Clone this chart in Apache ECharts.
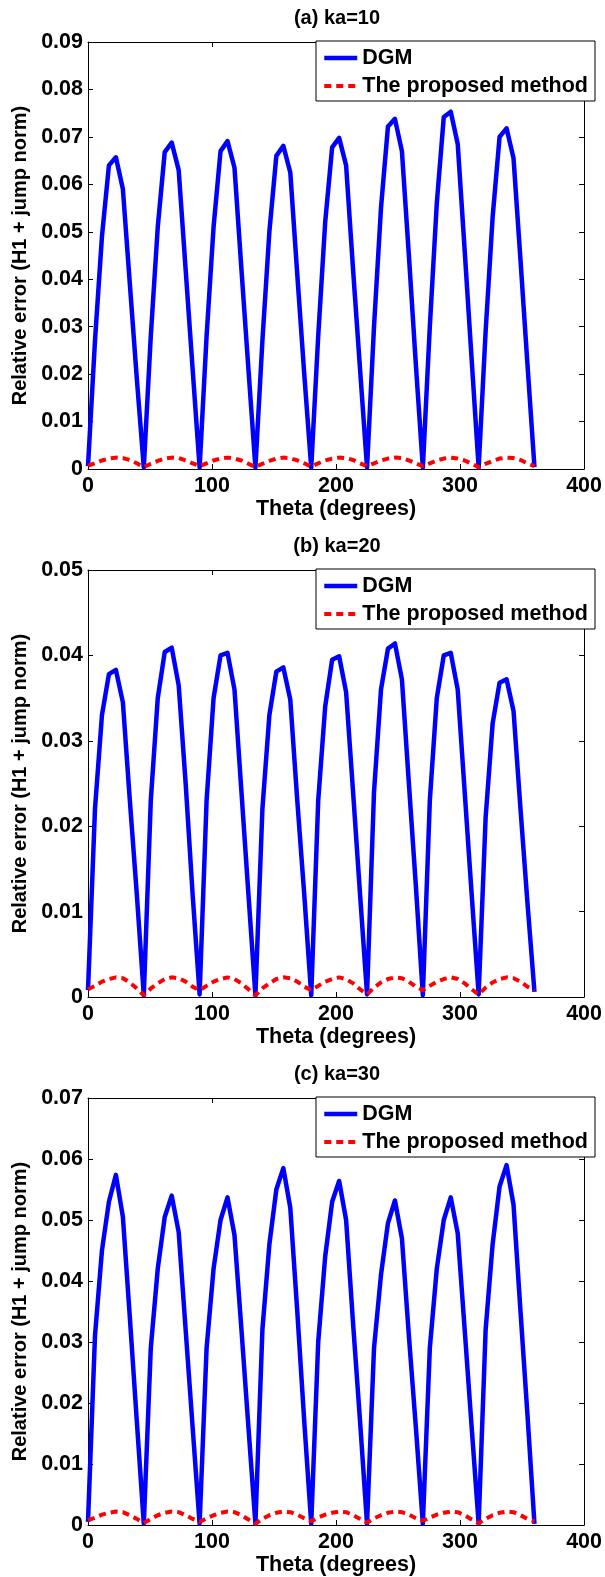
<!DOCTYPE html>
<html><head><meta charset="utf-8">
<script src="https://cdn.jsdelivr.net/npm/echarts@6/dist/echarts.min.js"></script>
<style>html,body{margin:0;padding:0;background:#fff}#c{width:605px;height:1577px}</style>
</head><body><div id="c"></div>
<script>
const theta = [0,5.625,11.25,16.875,22.5,28.125,33.75,39.375,45,50.625,56.25,61.875,67.5,73.125,78.75,84.375,90,95.625,101.25,106.875,112.5,118.125,123.75,129.375,135,140.625,146.25,151.875,157.5,163.125,168.75,174.375,180,185.625,191.25,196.875,202.5,208.125,213.75,219.375,225,230.625,236.25,241.875,247.5,253.125,258.75,264.375,270,275.625,281.25,286.875,292.5,298.125,303.75,309.375,315,320.625,326.25,331.875,337.5,343.125,348.75,354.375,360];

const dgmA = [0.0006,.027,.049,.0640,.0657,.0590,.039,.019,
 0.0003,.028,.051,.0668,.0688,.0630,.042,.021,
 0.0003,.028,.051,.0670,.0691,.0635,.042,.021,
 0.0003,.027,.050,.0660,.0681,.0625,.041,.020,
 0.0003,.028,.052,.0678,.0698,.0640,.042,.021,
 0.0003,.030,.055,.0722,.0738,.0670,.045,.022,
 0.0003,.030,.056,.0742,.0753,.0685,.046,.023,
 0.0003,.029,.053,.0700,.0718,.0655,.044,.022,
 0.0004];
const propA = [.0007,.0012,.0018,.0022,.0024,.0023,.0019,.0012,
 .0004,.0011,.0017,.0022,.0024,.0023,.0018,.0012,
 .0006,.0012,.0018,.0022,.0024,.0022,.0018,.0011,
 .0004,.0011,.0017,.0022,.0024,.0023,.0018,.0012,
 .0005,.0012,.0018,.0022,.0024,.0023,.0019,.0012,
 .0006,.0012,.0018,.0022,.0024,.0023,.0018,.0012,
 .0006,.0012,.0018,.0022,.0024,.0022,.0018,.0011,
 .0004,.0011,.0017,.0022,.0024,.0023,.0019,.0012,
 .0006];

const dgmB = [0.0008,.022,.033,.0378,.0383,.0345,.023,.012,
 0.0002,.023,.035,.0404,.0409,.0365,.025,.012,
 0.0003,.023,.035,.0400,.0403,.0360,.024,.012,
 0.0002,.022,.033,.0381,.0386,.0348,.023,.012,
 0.0002,.023,.034,.0395,.0399,.0357,.024,.012,
 0.0003,.024,.036,.0408,.0414,.0372,.025,.013,
 0.0002,.023,.035,.0400,.0403,.0360,.024,.012,
 0.0003,.021,.032,.0368,.0372,.0335,.022,.011,
 0.0006];
const propB = [.0009,.0013,.0018,.0021,.0023,.0022,.0017,.0010,
 .0002,.0010,.0016,.0021,.0023,.0022,.0018,.0012,
 .0008,.0013,.0018,.0021,.0023,.0021,.0016,.0009,
 .0002,.0010,.0016,.0021,.0023,.0022,.0018,.0012,
 .0008,.0013,.0018,.0021,.0023,.0021,.0016,.0009,
 .0003,.0011,.0017,.0021,.0023,.0022,.0018,.0012,
 .0008,.0013,.0018,.0021,.0023,.0021,.0016,.0009,
 .0003,.0011,.0017,.0021,.0023,.0022,.0018,.0012,
 .0008];

const dgmC = [0.0005,.031,.045,.0530,.0574,.0505,.034,.017,
 0.0002,.029,.042,.0505,.0540,.0480,.032,.016,
 0.0002,.029,.042,.0500,.0537,.0475,.032,.016,
 0.0002,.032,.046,.0550,.0585,.0520,.035,.017,
 0.0002,.030,.044,.0530,.0564,.0500,.033,.017,
 0.0002,.029,.041,.0495,.0532,.0470,.031,.016,
 0.0002,.029,.042,.0500,.0537,.0478,.032,.016,
 0.0002,.032,.046,.0555,.0590,.0525,.035,.018,
 0.0002];
const propC = [.0008,.0012,.0017,.0020,.0022,.0021,.0016,.0010,
 .0003,.0010,.0016,.0020,.0022,.0021,.0016,.0010,
 .0005,.0011,.0016,.0020,.0022,.0021,.0016,.0009,
 .0002,.0010,.0016,.0020,.0022,.0021,.0017,.0011,
 .0006,.0012,.0017,.0020,.0022,.0021,.0016,.0010,
 .0004,.0011,.0016,.0020,.0022,.0021,.0017,.0011,
 .0007,.0012,.0017,.0020,.0022,.0021,.0016,.0009,
 .0003,.0010,.0016,.0020,.0022,.0021,.0016,.0010,
 .0006];

const panelTitles = ['(a) ka=10', '(b) ka=20', '(c) ka=30'];
const seriesNames = ['DGM', 'The proposed method'];
const xMin = 0, xMax = 400, xStep = 100;
const yMaxes = [0.09, 0.05, 0.07];
const yStep = 0.01;
const xName = 'Theta (degrees)';
const yName = 'Relative error (H1 + jump norm)';
const dgmData = [dgmA, dgmB, dgmC];
const propData = [propA, propB, propC];

// layout
const FONT = '"Liberation Sans", Arial, Helvetica, sans-serif';
const gridLeft = 88, gridWidth = 498, gridHeight = 427;
const gridTops = [42, 570, 1098];
const blueStyle = {color: '#0000ff', width: 4.5, join: 'round'};
const redStyle = {color: '#ff0000', width: 4, type: [7, 5]};

const chart = echarts.init(document.getElementById('c'), null, {renderer: 'canvas'});
const grids = [], xAxes = [], yAxes = [], series = [], legends = [], graphics = [];
const lbl = {color: '#000', fontSize: 21.5, fontWeight: 'bold', fontFamily: FONT};
const yFmt = v => (v === 0 ? '0' : v.toFixed(2));

for (let i = 0; i < 3; i++) {
  grids.push({left: gridLeft, top: gridTops[i], width: gridWidth, height: gridHeight, show: false});
  graphics.push({type: 'text', x: gridLeft + gridWidth / 2, y: gridTops[i] - 24,
    style: {text: panelTitles[i], fill: '#000', font: 'bold 20px ' + FONT, align: 'center', verticalAlign: 'middle'}});
}
for (let i = 0; i < 3; i++) {
  xAxes.push({type: 'value', gridIndex: i, position: 'bottom', min: xMin, max: xMax, interval: xStep,
    name: xName, nameLocation: 'middle', nameGap: 26,
    nameTextStyle: {color: '#000', fontSize: 21.5, fontWeight: 'bold', fontFamily: FONT},
    axisLine: {show: true, onZero: false, lineStyle: {color: '#000', width: 1}},
    axisTick: {show: true, inside: true, length: 5, lineStyle: {color: '#000'}},
    axisLabel: Object.assign({margin: 6}, lbl),
    splitLine: {show: false}});
}
for (let i = 0; i < 3; i++) {
  xAxes.push({type: 'value', gridIndex: i, position: 'top', min: xMin, max: xMax, interval: xStep,
    axisLine: {show: true, onZero: false, lineStyle: {color: '#000', width: 1}},
    axisTick: {show: true, inside: true, length: 5, lineStyle: {color: '#000'}},
    axisLabel: {show: false}, splitLine: {show: false}});
}
for (let i = 0; i < 3; i++) {
  yAxes.push({type: 'value', gridIndex: i, position: 'left', min: 0, max: yMaxes[i], interval: yStep,
    name: yName, nameLocation: 'middle', nameGap: 49,
    nameTextStyle: {color: '#000', fontSize: 20, fontWeight: 'bold', fontFamily: FONT},
    axisLine: {show: true, onZero: false, lineStyle: {color: '#000', width: 1}},
    axisTick: {show: true, inside: true, length: 5, lineStyle: {color: '#000'}},
    axisLabel: Object.assign({margin: 5, formatter: yFmt}, lbl),
    splitLine: {show: false}});
}
for (let i = 0; i < 3; i++) {
  yAxes.push({type: 'value', gridIndex: i, position: 'right', min: 0, max: yMaxes[i], interval: yStep,
    axisLine: {show: true, onZero: false, lineStyle: {color: '#000', width: 1}},
    axisTick: {show: true, inside: true, length: 5, lineStyle: {color: '#000'}},
    axisLabel: {show: false}, splitLine: {show: false}});
}
for (let i = 0; i < 3; i++) {
  series.push({name: seriesNames[0], type: 'line', xAxisIndex: i, yAxisIndex: i,
    data: theta.map((t, k) => [t, dgmData[i][k]]),
    symbol: 'none', lineStyle: blueStyle, itemStyle: {color: '#0000ff'}, z: 3});
  series.push({name: seriesNames[1], type: 'line', xAxisIndex: i, yAxisIndex: i,
    data: theta.map((t, k) => [t, propData[i][k]]),
    symbol: 'none', lineStyle: redStyle, itemStyle: {color: '#ff0000'}, z: 4});
  legends.push({
    data: [
      {name: seriesNames[0], itemStyle: {opacity: 0}, lineStyle: {color: '#0000ff', width: 4.5, type: 'solid', opacity: 1}},
      {name: seriesNames[1], itemStyle: {opacity: 0}, lineStyle: {color: '#ff0000', width: 4, type: [7, 5], opacity: 1}}
    ],
    orient: 'vertical', left: 316, top: gridTops[i] - 1,
    backgroundColor: '#fff', borderColor: '#000', borderWidth: 1, padding: [6, 7, 4, 6],
    itemWidth: 33, itemHeight: 14, itemGap: 6, selectedMode: false,
    itemStyle: {opacity: 0},
    textStyle: {color: '#000', fontSize: 21.5, fontWeight: 'bold', fontFamily: FONT}});
}

chart.setOption({
  animation: false,
  backgroundColor: '#fff',
  grid: grids, xAxis: xAxes, yAxis: yAxes, series: series, legend: legends,
  graphic: graphics
});
</script></body></html>
